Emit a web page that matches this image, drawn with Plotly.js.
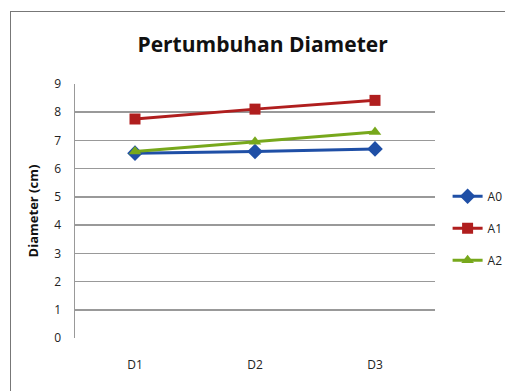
<!DOCTYPE html>
<html><head><meta charset="utf-8">
<script src="https://cdn.plot.ly/plotly-3.0.1.min.js"></script>
<style>
body{margin:0;padding:0;background:#fff;}
#frame{position:absolute;left:10px;top:11px;width:600px;height:500px;border-left:1.5px solid #777;border-top:1.5px solid #777;pointer-events:none;}
#chart{position:absolute;left:0;top:0;width:505px;height:391px;}
</style></head>
<body>
<div id="chart"></div>
<div id="frame"></div>
<script>
const categories = ["D1", "D2", "D3"];
const seriesNames = ["A0", "A1", "A2"];
const A0 = [6.55, 6.61, 6.70];
const A1 = [7.76, 8.11, 8.42];
const A2 = [6.61, 6.95, 7.30];
const yTicks = [0,1,2,3,4,5,6,7,8,9];

const colors = ["#1f4fa6", "#b01e1e", "#77a81c"];
const symbols = ["diamond", "square", "triangle-up"];
const values = [A0, A1, A2];

const traces = values.map((v, i) => ({
  x: categories, y: v, name: seriesNames[i], type: "scatter", mode: "lines+markers",
  legendgroup: seriesNames[i],
  line: {color: colors[i], width: 3},
  marker: {color: colors[i], symbol: symbols[i], size: i === 0 ? 12 : 11}
}));

const layout = {
  width: 505, height: 391,
  margin: {l: 75, r: 70, t: 84, b: 53, autoexpand: false},
  paper_bgcolor: "#fff", plot_bgcolor: "#fff",
  font: {family: "Open Sans, sans-serif", color: "#111"},
  title: {text: "<b>Pertumbuhan Diameter</b>", font: {size: 21, family: "Open Sans", color: "#111"}, x: 0.52, xanchor: "center", y: 0.885, yanchor: "middle"},
  xaxis: {type: "category", range: [-0.5, 2.5], showgrid: false, zeroline: false, showline: false,
          tickfont: {size: 12, color: "#222"}, ticks: "outside", ticklen: 16, tickcolor: "rgba(0,0,0,0)", automargin: false},
  yaxis: {range: [0, 9], tickvals: yTicks, showgrid: true, gridcolor: "#999999", gridwidth: 1.5,
          zeroline: false, showline: true, linecolor: "#999999", linewidth: 1.5,
          tickfont: {size: 12, color: "#222"}, ticks: "outside", ticklen: 10, tickcolor: "rgba(0,0,0,0)", automargin: false,
          title: {text: "<b>Diameter (cm)</b>", font: {size: 13, color: "#111"}, standoff: 12}},
  legend: {x: 1.035, xanchor: "left", y: 0.615, yanchor: "top", traceorder: "grouped", tracegroupgap: 13,
           font: {size: 12, color: "#222"}, bgcolor: "rgba(0,0,0,0)", itemwidth: 30},
  showlegend: true
};
Plotly.newPlot("chart", traces, layout, {displayModeBar: false, staticPlot: true});
</script>
</body></html>
